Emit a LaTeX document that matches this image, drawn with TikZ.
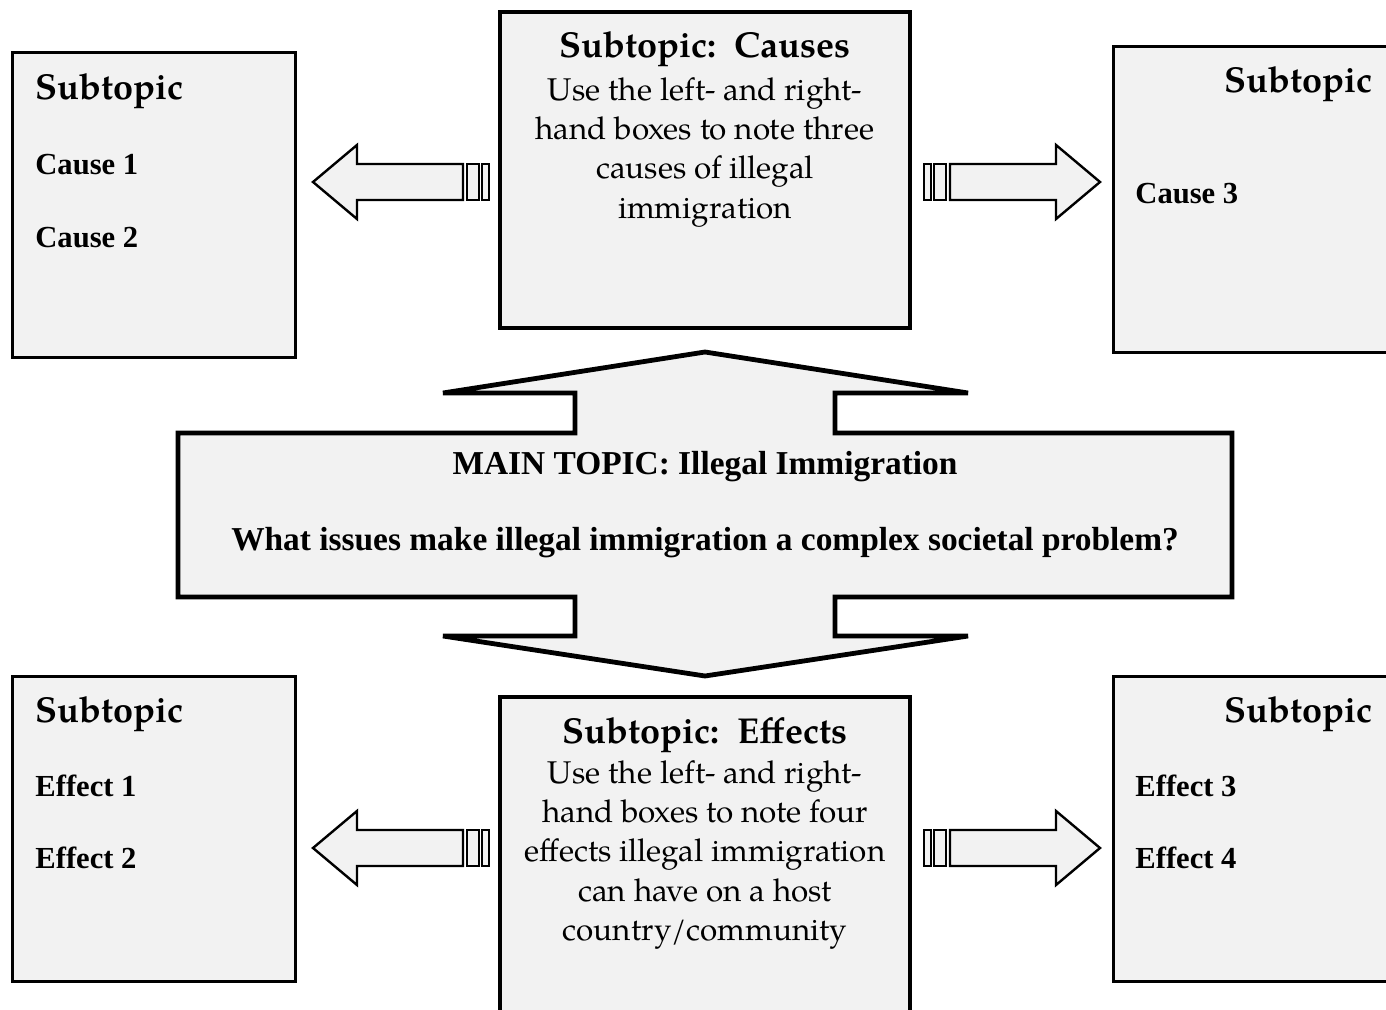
\documentclass[tikz,border=0pt]{standalone}
\usepackage{fontspec}
\setmainfont{Liberation Serif}
\newfontfamily\pala{TeX Gyre Pagella}
\usepackage{tikz}
\usetikzlibrary{positioning}
\definecolor{boxgray}{RGB}{242,242,242}
\tikzset{
    subbox/.style={
        draw=black,
        fill=boxgray,
        line width=1.5pt
    },
    % thick frame for the centre boxes and the topic arrow
    bigbox/.style={
        draw=black,
        fill=boxgray,
        line width=2.4pt
    },
    arrowline/.style={
        draw=black,
        fill=boxgray,
        line width=1.2pt
    },
    headtext/.style={inner sep=0pt, font=\pala\bfseries\fontsize{18}{22}\selectfont},
    bodytext/.style={inner sep=0pt, align=center, font=\pala\fontsize{15.7}{19.65}\selectfont},
    itemtext/.style={inner sep=0pt, font=\bfseries\fontsize{15.3}{18}\selectfont},
    topictext/.style={inner sep=0pt, font=\bfseries\fontsize{16.7}{20}\selectfont},
    pics/stripearrow/.style={code={
        \draw[arrowline] (0,-18) rectangle (7,18);
        \draw[arrowline] (10,-18) rectangle (22,18);
        \draw[arrowline] (26,-18) -- (132,-18) -- (132,-37) -- (176,0)
            -- (132,37) -- (132,18) -- (26,18) -- cycle;
    }}
}

\begin{document}
\begin{tikzpicture}[x=0.5pt,y=-0.5pt]
   \useasboundingbox (0,0) rectangle (1386,1010);
   \clip (0,0) rectangle (1386,1010);
   % side boxes
   \draw[subbox] (12,53) rectangle (295,358);
   \draw[subbox] (1113,47) rectangle (1400,353);
   \draw[subbox] (12,676) rectangle (295,981);
   \draw[subbox] (1113,676) rectangle (1400,981);
   % centre boxes
   \draw[bigbox] (500,12) rectangle (910,328);
   \draw[bigbox] (500,697) rectangle (910,1030);
   % main topic with its up and down arrows
   \draw[bigbox] (178,433) -- (575,433) -- (575,393) -- (443,393) -- (705,352)
      -- (968,393) -- (835,393) -- (835,433) -- (1232,433) -- (1232,597)
      -- (835,597) -- (835,636) -- (968,636) -- (705,676) -- (443,636)
      -- (575,636) -- (575,597) -- (178,597) -- cycle;
   % striped arrows
   \pic at (924,182) {stripearrow};
   \pic[xscale=-1] at (489,182) {stripearrow};
   \pic at (924,848) {stripearrow};
   \pic[xscale=-1] at (489,848) {stripearrow};

    \node[headtext, anchor=base west] (tlhead) at (35,100) {Subtopic};
    \node[itemtext, anchor=base west] (cause1) at (35,175) {Cause 1};
    \node[itemtext, anchor=base west] (cause2) at (35,248) {Cause 2};
    \node[headtext, anchor=base east] (trhead) at (1373,93) {Subtopic};
    \node[itemtext, anchor=base west] (cause3) at (1135,204) {Cause 3};
    \node[headtext, anchor=base] (causeshead) at (705,58) {Subtopic:\ \ Causes};
    \node[bodytext, anchor=north] (causesbody) at (705,77)
       {Use the left- and right-\\hand boxes to note three\\causes of illegal\\immigration};
    \node[topictext, anchor=base] (topic) at (705,474) {MAIN TOPIC: Illegal Immigration};
    \node[topictext, anchor=base] (question) at (705,550)
       {What issues make illegal immigration a complex societal problem?};
    \node[headtext, anchor=base west] (blhead) at (35,722) {Subtopic};
    \node[itemtext, anchor=base west] (effect1) at (35,796) {Effect 1};
    \node[itemtext, anchor=base west] (effect2) at (35,868) {Effect 2};
    \node[headtext, anchor=base east] (brhead) at (1373,722) {Subtopic};
    \node[itemtext, anchor=base west] (effect3) at (1135,796) {Effect 3};
    \node[itemtext, anchor=base west] (effect4) at (1135,868) {Effect 4};
    \node[headtext, anchor=base] (effectshead) at (705,743) {Subtopic:\ \ Effects};
    \node[bodytext, anchor=north] (effectsbody) at (705,760)
       {Use the left- and right-\\hand boxes to note four\\effects illegal immigration\\can have on a host\\country/community};
\end{tikzpicture}
\end{document}
